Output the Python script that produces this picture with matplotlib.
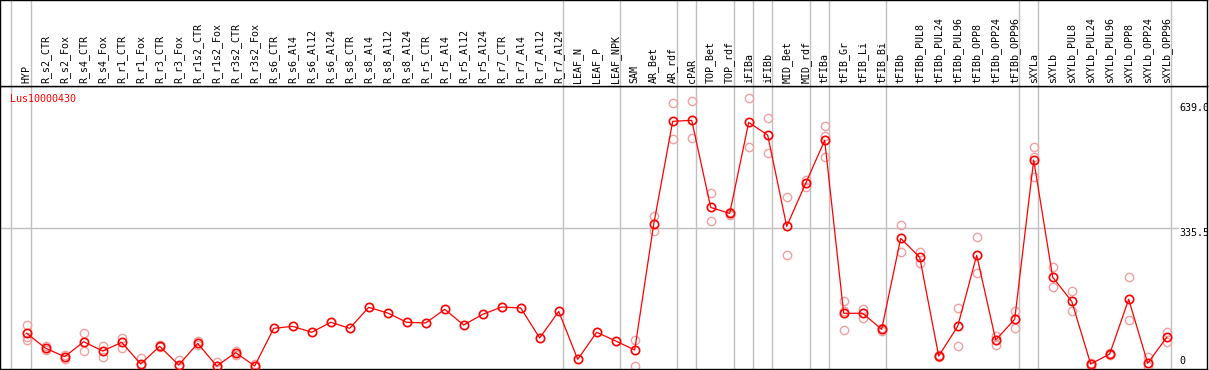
import matplotlib
matplotlib.use("Agg")
import matplotlib.pyplot as plt
from matplotlib.transforms import blended_transform_factory

gene = "Lus10000430"
samples = ["HYP", "R_s2_CTR", "R_s2_Fox", "R_s4_CTR", "R_s4_Fox", "R_r1_CTR", "R_r1_Fox",
           "R_r3_CTR", "R_r3_Fox", "R_r1s2_CTR", "R_r1s2_Fox", "R_r3s2_CTR", "R_r3s2_Fox",
           "R_s6_CTR", "R_s6_Al4", "R_s6_Al12", "R_s6_Al24", "R_s8_CTR", "R_s8_Al4",
           "R_s8_Al12", "R_s8_Al24", "R_r5_CTR", "R_r5_Al4", "R_r5_Al12", "R_r5_Al24",
           "R_r7_CTR", "R_r7_Al4", "R_r7_Al12", "R_r7_Al24", "LEAF_N", "LEAF_P", "LEAF_NPK",
           "SAM", "AR_Bet", "AR_rdf", "cPAR", "TOP_Bet", "TOP_rdf", "iFIBa", "iFIBb",
           "MID_Bet", "MID_rdf", "tFIBa", "tFIB_Gr", "tFIB_Li", "tFIB_Bi", "tFIBb",
           "tFIBb_PUL8", "tFIBb_PUL24", "tFIBb_PUL96", "tFIBb_OPP8", "tFIBb_OPP24",
           "tFIBb_OPP96", "sXYLa", "sXYLb", "sXYLb_PUL8", "sXYLb_PUL24", "sXYLb_PUL96",
           "sXYLb_OPP8", "sXYLb_OPP24", "sXYLb_OPP96"]

means = [79.6, 43, 22.7, 59, 36.5, 57.6, 4.9, 48, 2.4, 55, 0, 32.5, 0,
         91.7, 96.6, 82, 106.4, 91.7, 142.8, 129, 106.4, 104.7, 138, 99.8, 125.8, 143.6, 141.2, 68.2, 133,
         16.2, 82, 60.9, 39,
         345, 595.6, 598, 386, 371.6, 593, 562, 340, 444.7, 549.4, 128.3, 128.3, 89.3,
         310.8, 264.6, 24.3, 96.6, 269.5, 63.3, 113.7, 501.5, 216, 157.5, 4.9, 29.2, 162.4, 6.6, 69.9]

replicates = [[99.8, 69.9, 63.3], [48.7, 39], [26.8, 16.2], [79.6, 37.3], [48.7, 22.7],
              [69, 43], [18.7, 2.4], [50.3, 45.5], [14.6, 0], [61.6, 50.3], [10.5, 0],
              [36.5, 26.8], [4.1, 0],
              [], [], [], [], [], [], [], [], [], [], [], [], [], [], [], [],
              [], [], [], [63, 0],
              [365, 328.6], [639.5, 551.8], [644, 554], [420, 352], [368, 375],
              [651.6, 532], [603, 519], [410.6, 269.5], [452.8, 436.5], [584, 560, 508],
              [158, 87.6, 135], [138.7, 116.8], [92, 85],
              [343, 276.7], [277.5, 250], [26, 22], [142, 49.5], [313.3, 225.6], [73, 50.3],
              [133.9, 91.7], [532, 509.6, 460.8], [240, 191.6], [181.8, 133], [7, 1],
              [31, 27], [216, 111.2], [21, 0], [82.8, 57.7]]

# last sample index of each group (-1 = start)
group_ends = [-1, 0, 28, 31, 34, 35, 37, 38, 39, 41, 42, 45, 52, 53, 60]
ytick_vals = [639.0, 335.5, 0]
ytick_texts = ["639.0", "335.5", "0"]

W, H = 1209, 370
fig = plt.figure(figsize=(W / 100, H / 100), dpi=100)
sep = 85.7
axw = 1207 / W
ax = fig.add_axes([0, 1 / H, axw, (H - sep - 1) / H])
hx = fig.add_axes([0, (H - sep) / H, axw, sep / H])

mono = "DejaVu Sans Mono"
grey = "#c0c0c0"
x = list(range(len(samples)))
xlim = (-26.7 / 19, (1207 - 26.7) / 19)
ylim = (-7.3, 682.3)

for a in (ax, hx):
    a.set_xlim(*xlim)
    a.set_xticks([])
    a.set_yticks([])
    for s in a.spines.values():
        s.set_color("black")
        s.set_linewidth(1.0)
    for g in group_ends:
        a.axvline(g + 0.2, color=grey, lw=1.0, zorder=0)
ax.set_ylim(*ylim)
hx.set_ylim(0, 1)

ax.axhline(335.5, color=grey, lw=1.0, zorder=0, xmax=1178 / 1207)

rx, ry = [], []
for i, reps in enumerate(replicates):
    for r in reps:
        rx.append(i)
        ry.append(r)
ax.plot(rx, ry, linestyle="none", marker="o", markersize=6, markerfacecolor="none",
        markeredgecolor="#f0a0a0", markeredgewidth=1.0, zorder=2, clip_on=False)
ax.plot(x, means, color="#ff0000", lw=0.9, marker="o", markersize=6,
        markerfacecolor="none", markeredgecolor="#ff0000", markeredgewidth=1.2, zorder=3,
        clip_on=False)

trans_h = blended_transform_factory(hx.transData, hx.transAxes)
for i, name in enumerate(samples):
    hx.text(i, 0.03, name, rotation=90, ha="center", va="bottom", fontsize=7.2,
            family=mono, transform=trans_h)

trans_r = blended_transform_factory(ax.transAxes, ax.transData)
for v, t in zip(ytick_vals, ytick_texts):
    va = "bottom" if v == 0 else "top"
    ax.text(1179 / 1207, v, t, ha="left", va=va, fontsize=7.2, family=mono,
            transform=trans_r, clip_on=True)

ax.text(10 / 1207, 1 - (98.7 - sep) / (H - sep - 1), gene, color="#ff0000", fontsize=7.2,
        family=mono, ha="left", va="center", transform=ax.transAxes)

fig.savefig("out.png", dpi=100)
